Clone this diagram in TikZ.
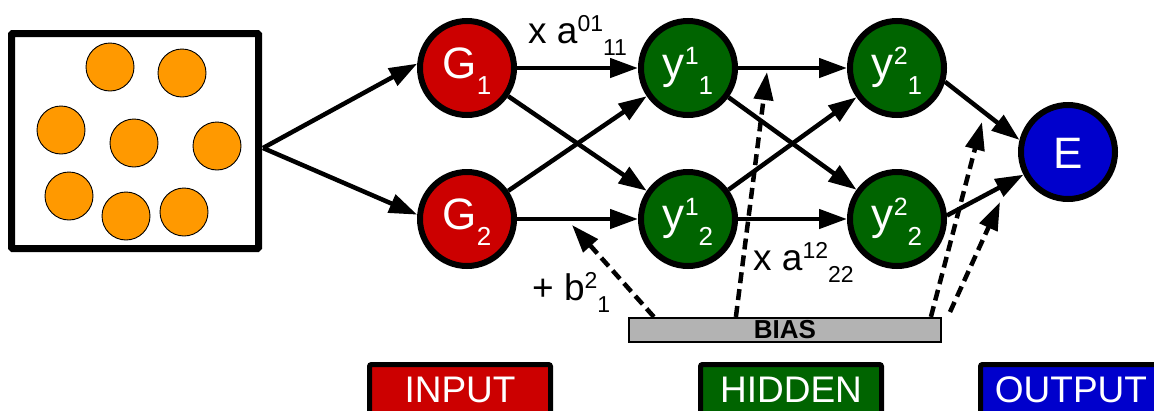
\documentclass[tikz,border=0pt]{standalone}
\usepackage{fontspec}
\setmainfont{Liberation Sans}
\usetikzlibrary{arrows.meta}
\usepackage{xcolor}
\definecolor{inred}{HTML}{CC0000}
\definecolor{hidgreen}{HTML}{006400}
\definecolor{outblue}{HTML}{0000CC}
\definecolor{ballorange}{HTML}{FF9900}
\definecolor{biasgray}{HTML}{B3B3B3}

\newcommand{\nlab}[3]{#1\raisebox{14pt}{\fontsize{25}{25}\selectfont #2}\raisebox{-16pt}{\fontsize{26}{26}\selectfont #3}}
\newcommand{\elab}[3]{#1\raisebox{12pt}{\fontsize{23}{23}\selectfont #2}\raisebox{-12pt}{\fontsize{23}{23}\selectfont #3}}

\begin{document}
\begin{tikzpicture}[
      x=1pt, y=-1pt,
      neuron/.style={circle, draw=black, line width=6pt, minimum size=94pt, inner sep=0pt, text=white, font=\fontsize{44}{44}\selectfont, text height=20pt, text depth=0pt},
      inneuron/.style={neuron, fill=inred},
      hidneuron/.style={neuron, fill=hidgreen},
      outneuron/.style={neuron, fill=outblue, text height=32pt},
      ball/.style={circle, draw=black, line width=0.9pt, fill=ballorange, minimum size=48pt, inner sep=0pt},
      inbox/.style={rectangle, draw=black, line width=7pt, fill=white, minimum width=247pt, minimum height=215pt, rounded corners=1pt},
      biasbar/.style={rectangle, draw=black, line width=2.2pt, fill=biasgray, minimum width=312pt, minimum height=24pt, inner sep=0pt, font=\fontsize{26}{26}\selectfont\bfseries},
      legend/.style={rectangle, draw=black, line width=5pt, rounded corners=2pt, minimum width=181pt, minimum height=50pt, anchor=north, text=white, font=\fontsize{37}{37}\selectfont},
      edgelab/.style={anchor=base west, inner sep=0pt, font=\fontsize{37}{37}\selectfont},
      arrow/.style={-{Triangle[length=28pt, width=19pt]}, line width=4.5pt},
      biasarrow/.style={arrow, dash pattern=on 11pt off 6pt},
    ]
    \useasboundingbox (0,0) rectangle (1154,410);

    \node[inbox] (inbox) at (135,141) {};
    \foreach \px/\py [count=\i] in {110/67, 182/73, 61/130, 134/143, 217/146, 69/196, 126/216, 184/212}
      \node[ball] (ball\i) at (\px,\py) {};
    \coordinate (fork) at (263,148);

    \node[inneuron] (g1) at (467,68) {\nlab{G}{}{1}};
    \node[inneuron] (g2) at (467,219) {\nlab{G}{}{2}};
    \node[hidneuron] (y11) at (688,68) {\nlab{y}{1}{1}};
    \node[hidneuron] (y12) at (688,219) {\nlab{y}{1}{2}};
    \node[hidneuron] (y21) at (897,68) {\nlab{y}{2}{1}};
    \node[hidneuron] (y22) at (897,219) {\nlab{y}{2}{2}};
    \node[outneuron] (e) at (1068,152) {E};

    \node[biasbar] (bias) at (785,330) {BIAS};

    \node[edgelab] (w0111) at (528,43) {\elab{x a}{01}{11}};
    \node[edgelab] (w1222) at (753,270) {\elab{x a}{12}{22}};
    \node[edgelab] (b21) at (532,300) {\elab{+ b}{2}{1}};

    \node[legend, fill=inred] (leginput) at (460,362) {INPUT};
    \node[legend, fill=hidgreen] (leghidden) at (791,362) {HIDDEN};
    \node[legend, fill=outblue] (legoutput) at (1071,362) {OUTPUT};

    \draw[arrow] (fork) -- (g1.175);
    \draw[arrow] (fork) -- (g2.175);
    \draw[arrow] (g1) -- (y11);
    \draw[arrow] (g1) -- (y12);
    \draw[arrow] (g2) -- (y11);
    \draw[arrow] (g2) -- (y12);
    \draw[arrow] (y11) -- (y21);
    \draw[arrow] (y11) -- (y22);
    \draw[arrow] (y12) -- (y21);
    \draw[arrow] (y12) -- (y22);
    \draw[arrow] (y21.-16) -- (e.166);
    \draw[arrow] (y22.4) -- (e.207);

    \coordinate (b1tip) at (572,225);
    \coordinate (b2tip) at (767,72);
    \coordinate (b3tip) at (982,122);
    \coordinate (b4foot) at (950,312);
    \coordinate (b4tip) at (1000,202);
    \draw[biasarrow] ([xshift=26pt]bias.north west) -- (b1tip);
    \draw[biasarrow] ([xshift=108pt]bias.north west) -- (b2tip);
    \draw[biasarrow] ([xshift=303pt]bias.north west) -- (b3tip);
    \draw[biasarrow] (b4foot) -- (b4tip);
  \end{tikzpicture}
\end{document}
